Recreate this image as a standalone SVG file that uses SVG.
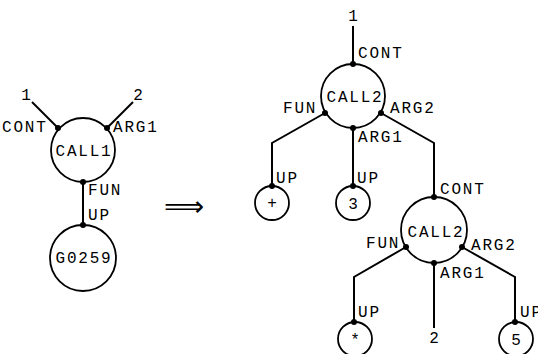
<svg xmlns="http://www.w3.org/2000/svg" width="538" height="354" viewBox="0 0 538 354">
  <style>
    .edge { fill: none; stroke: #000; stroke-width: 2; stroke-linejoin: miter; }
    .node { fill: #fff; stroke: #000; stroke-width: 1.8; }
    .port { fill: #000; }
    .lbl { font-family: "Liberation Mono", "Courier New", monospace; font-size: 16px; letter-spacing: 1.8px; fill: #000; }
    .val { font-family: "Liberation Mono", "Courier New", monospace; font-size: 16px; fill: #000; text-anchor: middle; }
    .mid { text-anchor: middle; }
  </style>
  <rect width="538" height="354" fill="#fff"/>

  <!-- edges between ports -->
  <g id="connectors">
    <!-- left graph -->
    <line class="edge" x1="32" y1="102" x2="58" y2="128"/>
    <line class="edge" x1="133" y1="102" x2="107" y2="128"/>
    <line class="edge" x1="83" y1="182" x2="83" y2="225"/>
    <!-- right graph -->
    <line class="edge" x1="353" y1="26" x2="353" y2="64"/>
    <polyline class="edge" points="325,113 272,143 272,186"/>
    <line class="edge" x1="353" y1="128" x2="353" y2="186"/>
    <polyline class="edge" points="381,113 434,143 434,197"/>
    <polyline class="edge" points="406,247 354,277 354,322"/>
    <line class="edge" x1="434" y1="263" x2="434" y2="328"/>
    <polyline class="edge" points="462,247 515,277 515,322"/>
  </g>

  <!-- left graph -->
  <g id="const-1a">
    <text class="val" x="26" y="100">1</text>
  </g>
  <g id="const-2a">
    <text class="val" x="138" y="100">2</text>
  </g>
  <g id="call1">
    <circle class="node" cx="83" cy="150" r="32"/>
    <text class="lbl mid" x="84" y="156">CALL1</text>
    <text class="lbl" x="2" y="132">CONT</text>
    <text class="lbl" x="113" y="132">ARG1</text>
    <text class="lbl" x="88" y="195">FUN</text>
    <circle class="port" cx="58" cy="128" r="3"/>
    <circle class="port" cx="107" cy="128" r="3"/>
    <circle class="port" cx="83" cy="182" r="3"/>
  </g>
  <g id="g0259">
    <circle class="node" cx="83" cy="258" r="33"/>
    <text class="lbl mid" x="84" y="263">G0259</text>
    <text class="lbl" x="88" y="220">UP</text>
    <circle class="port" cx="83" cy="225" r="3"/>
  </g>

  <!-- rewrite arrow -->
  <g id="rewrite">
    <text x="184" y="216" font-family="DejaVu Sans, sans-serif" font-size="28" text-anchor="middle">⟹</text>
  </g>

  <!-- right graph -->
  <g id="const-1b">
    <text class="val" x="353" y="21">1</text>
  </g>
  <g id="call2-outer">
    <circle class="node" cx="353" cy="96" r="32"/>
    <text class="lbl mid" x="355" y="102">CALL2</text>
    <text class="lbl" x="358" y="58">CONT</text>
    <text class="lbl" x="283" y="113">FUN</text>
    <text class="lbl" x="390" y="113">ARG2</text>
    <text class="lbl" x="358" y="142">ARG1</text>
    <circle class="port" cx="353" cy="64" r="3"/>
    <circle class="port" cx="325" cy="113" r="3"/>
    <circle class="port" cx="353" cy="128" r="3"/>
    <circle class="port" cx="381" cy="113" r="3"/>
  </g>
  <g id="plus">
    <circle class="node" cx="272" cy="203" r="17"/>
    <text class="val" x="272" y="208">+</text>
    <text class="lbl" x="276" y="183">UP</text>
    <circle class="port" cx="272" cy="186" r="3"/>
  </g>
  <g id="three">
    <circle class="node" cx="353" cy="203" r="17"/>
    <text class="val" x="353" y="209">3</text>
    <text class="lbl" x="357" y="183">UP</text>
    <circle class="port" cx="353" cy="186" r="3"/>
  </g>
  <g id="call2-inner">
    <circle class="node" cx="434" cy="230" r="33"/>
    <text class="lbl mid" x="436" y="237">CALL2</text>
    <text class="lbl" x="440" y="194">CONT</text>
    <text class="lbl" x="366" y="248">FUN</text>
    <text class="lbl" x="471" y="250">ARG2</text>
    <text class="lbl" x="440" y="278">ARG1</text>
    <circle class="port" cx="434" cy="197" r="3"/>
    <circle class="port" cx="406" cy="247" r="3"/>
    <circle class="port" cx="434" cy="263" r="3"/>
    <circle class="port" cx="462" cy="247" r="3"/>
  </g>
  <g id="star">
    <circle class="node" cx="355" cy="339" r="17"/>
    <text class="val" x="355" y="345">*</text>
    <text class="lbl" x="358" y="317">UP</text>
    <circle class="port" cx="354" cy="322" r="3"/>
  </g>
  <g id="const-2b">
    <text class="val" x="434" y="343">2</text>
  </g>
  <g id="five">
    <circle class="node" cx="516" cy="339" r="17"/>
    <text class="val" x="516" y="345">5</text>
    <text class="lbl" x="520" y="317">UP</text>
    <circle class="port" cx="515" cy="322" r="3"/>
  </g>
</svg>
